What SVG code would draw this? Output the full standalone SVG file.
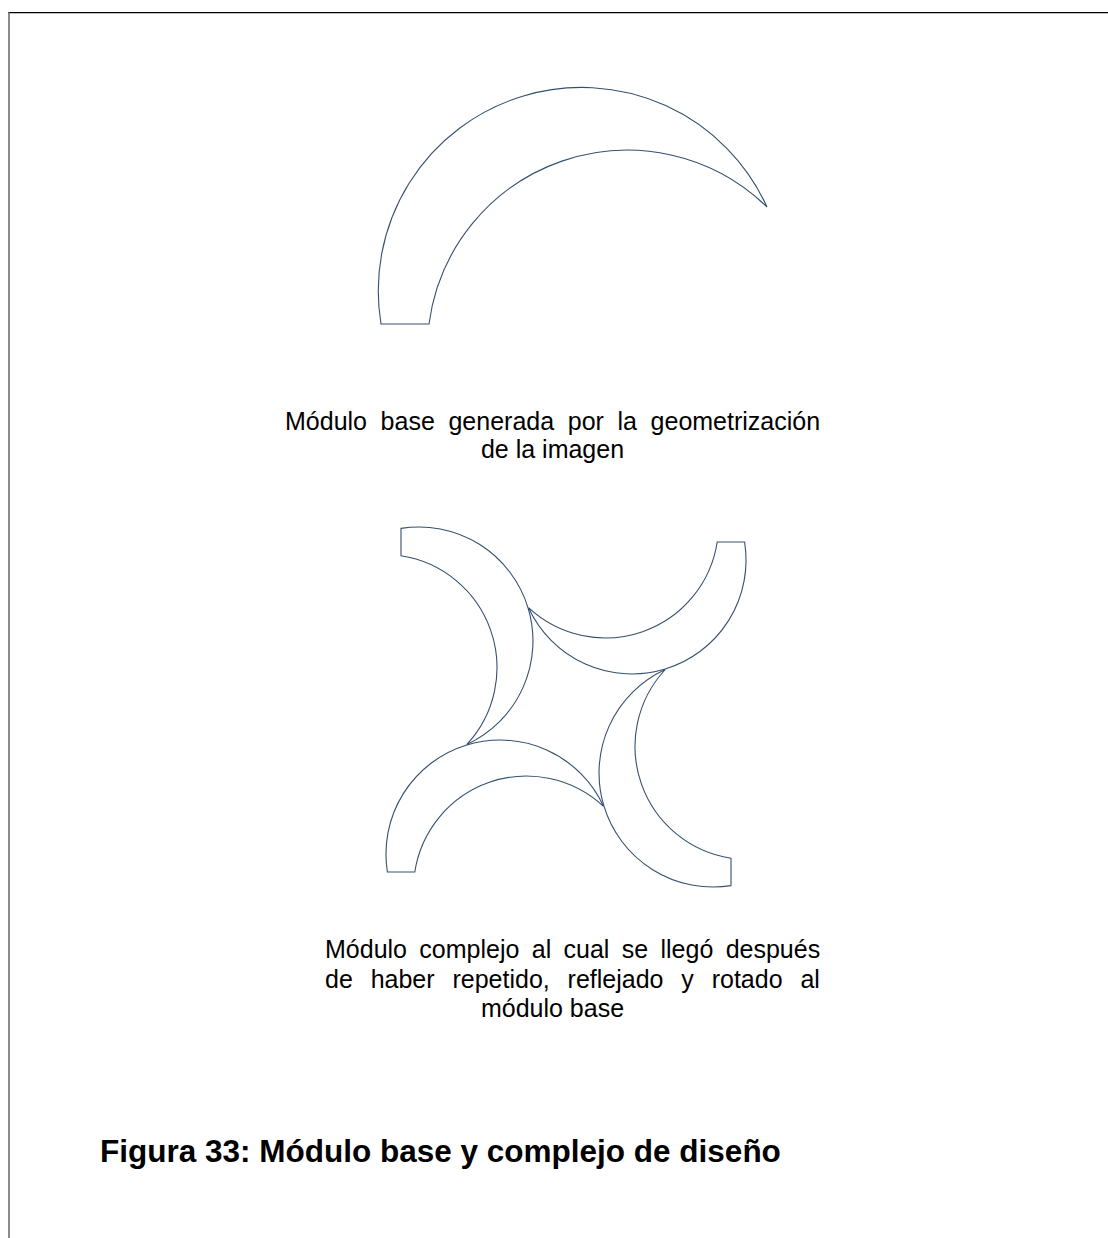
<svg xmlns="http://www.w3.org/2000/svg" xmlns:xlink="http://www.w3.org/1999/xlink" width="1108" height="1238" viewBox="0 0 1108 1238">
  <style>
    .shape { fill: none; stroke: #34506f; stroke-width: 1.1; }
    .cap { font-family: "Liberation Sans", Arial, sans-serif; font-size: 25px; fill: #000; }
    .title { font-family: "Liberation Sans", Arial, sans-serif; font-size: 31.5px; font-weight: bold; fill: #000; }
  </style>
  <defs>
    <!-- one crescent of the composed module; the other three are quarter turns about (566,707) -->
    <path id="crescent" d="M401,528.4 A114,114 0 0 1 466.7,744.5 A113,113 0 0 0 401,555.8 Z"/>
  </defs>

  <rect width="1108" height="1238" fill="#fff"/>

  <!-- page frame -->
  <g id="frame">
    <line x1="8" y1="12.6" x2="1108" y2="12.6" stroke="#000" stroke-width="1.3"/>
    <line x1="9" y1="12" x2="9" y2="1238" stroke="#666" stroke-width="1.5"/>
  </g>

  <!-- base module -->
  <g id="base-module">
    <path class="shape" d="M381,324 A203.4,203.4 0 0 1 767,207 A200,200 0 0 0 429,324 Z"/>
  </g>

  <g id="base-caption" class="cap">
    <text x="285" y="430" word-spacing="6.68">Módulo base generada por la geometrización</text>
    <text x="552.5" y="458" text-anchor="middle">de la imagen</text>
  </g>

  <!-- complex module: four rotated copies -->
  <g id="complex-module" class="shape">
    <use xlink:href="#crescent" href="#crescent"/>
    <use xlink:href="#crescent" href="#crescent" transform="rotate(90 566 707)"/>
    <use xlink:href="#crescent" href="#crescent" transform="rotate(180 566 707)"/>
    <use xlink:href="#crescent" href="#crescent" transform="rotate(270 566 707)"/>
  </g>

  <g id="complex-caption" class="cap">
    <text x="325" y="958" word-spacing="5.4">Módulo complejo al cual se llegó después</text>
    <text x="325" y="988" word-spacing="10.9">de haber repetido, reflejado y rotado al</text>
    <text x="552.5" y="1017" text-anchor="middle">módulo base</text>
  </g>

  <g id="figure-title">
    <text class="title" x="100" y="1162">Figura 33: Módulo base y complejo de diseño</text>
  </g>
</svg>
